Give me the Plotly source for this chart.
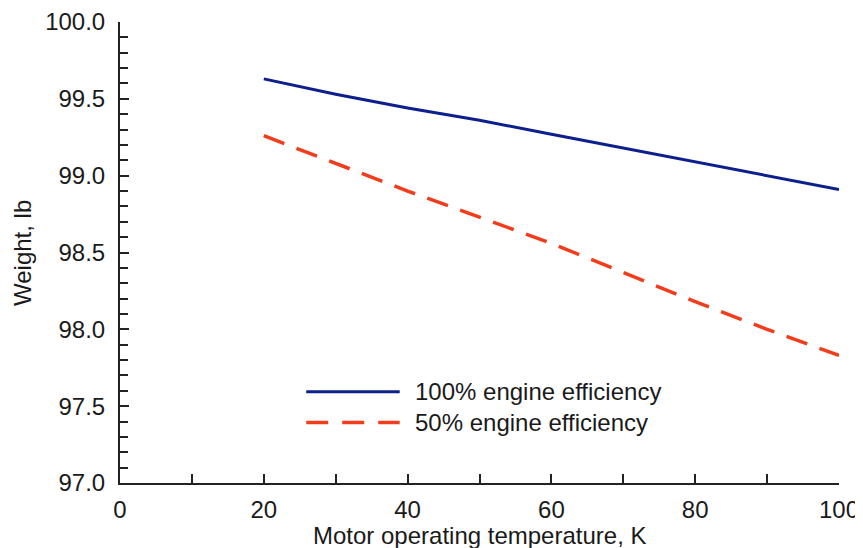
import plotly.graph_objects as go

temperature_K = [20, 30, 40, 50, 60, 70, 80, 90, 100]
weight_100pct = [99.63, 99.53, 99.44, 99.36, 99.27, 99.18, 99.09, 99.00, 98.91]
weight_50pct = [99.26, 99.08, 98.90, 98.73, 98.56, 98.37, 98.18, 98.00, 97.83]
series_names = ["100% engine efficiency", "50% engine efficiency"]
x_title = "Motor operating temperature, K"
y_title = "Weight, lb"

BLUE = "#0c1f8c"
RED = "#f23c1c"
TXT = "#1a1a1a"
FONT = "Liberation Sans, Arial, sans-serif"

W, H = 863, 548
ML, MR, MT, MB = 112, 32, 14, 73

fig = go.Figure()
fig.add_trace(go.Scatter(x=temperature_K, y=weight_100pct, mode="lines",
                         name=series_names[0], line=dict(color=BLUE, width=3),
                         showlegend=False))
fig.add_trace(go.Scatter(x=temperature_K, y=weight_50pct, mode="lines",
                         name=series_names[1],
                         line=dict(color=RED, width=3.5, dash="22px,13px"),
                         showlegend=False))

# manual legend (long line samples as in the reference)
leg_x0, leg_x1 = 0.259, 0.389
leg_y = [0.198, 0.131]
fig.add_shape(type="line", xref="paper", yref="paper", x0=leg_x0, x1=leg_x1,
              y0=leg_y[0], y1=leg_y[0], line=dict(color=BLUE, width=3))
fig.add_shape(type="line", xref="paper", yref="paper", x0=leg_x0, x1=leg_x1,
              y0=leg_y[1], y1=leg_y[1], line=dict(color=RED, width=3.5, dash="22px,14px"))
for name, yy in zip(series_names, leg_y):
    fig.add_annotation(xref="paper", yref="paper", x=0.407, y=yy, text=name,
                       showarrow=False, xanchor="left", yanchor="middle",
                       font=dict(size=24, color=TXT, family=FONT))

# axis titles
pw, ph = W - ML - MR, H - MT - MB
fig.add_annotation(xref="paper", yref="paper", x=(472 - ML) / pw, y=-(527 - (H - MB)) / ph,
                   text=x_title, showarrow=False, xanchor="center", yanchor="middle",
                   font=dict(size=24, color=TXT, family=FONT))
fig.add_annotation(xref="paper", yref="paper", x=-(ML - 14) / pw, y=((H - MB) - 245) / ph,
                   text=y_title, showarrow=False, xanchor="center", yanchor="middle",
                   textangle=-90, font=dict(size=24, color=TXT, family=FONT))

fig.update_layout(
    width=W, height=H,
    margin=dict(l=ML, r=MR, t=MT, b=MB),
    plot_bgcolor="white", paper_bgcolor="white",
    font=dict(family=FONT, color=TXT, size=24),
)
fig.update_xaxes(
    range=[0, 100], dtick=20, tick0=0, automargin=False,
    ticks="inside", ticklen=9, tickwidth=1.5, tickcolor="#222",
    minor=dict(dtick=10, ticks="inside", ticklen=9, tickwidth=1.5, tickcolor="#222", showgrid=False),
    showline=True, linecolor="#222", linewidth=2,
    showgrid=False, zeroline=False, ticklabelstandoff=4,
    tickfont=dict(size=24),
)
fig.update_yaxes(
    range=[97, 100], dtick=0.5, tick0=97, tickformat=".1f", automargin=False,
    ticks="inside", ticklen=9, tickwidth=1.5, tickcolor="#222",
    minor=dict(dtick=0.1, ticks="inside", ticklen=8, tickwidth=1.5, tickcolor="#222", showgrid=False),
    showline=True, linecolor="#222", linewidth=2,
    showgrid=False, zeroline=False, ticklabelstandoff=8,
    tickfont=dict(size=24),
)

fig.write_html("out.html")
